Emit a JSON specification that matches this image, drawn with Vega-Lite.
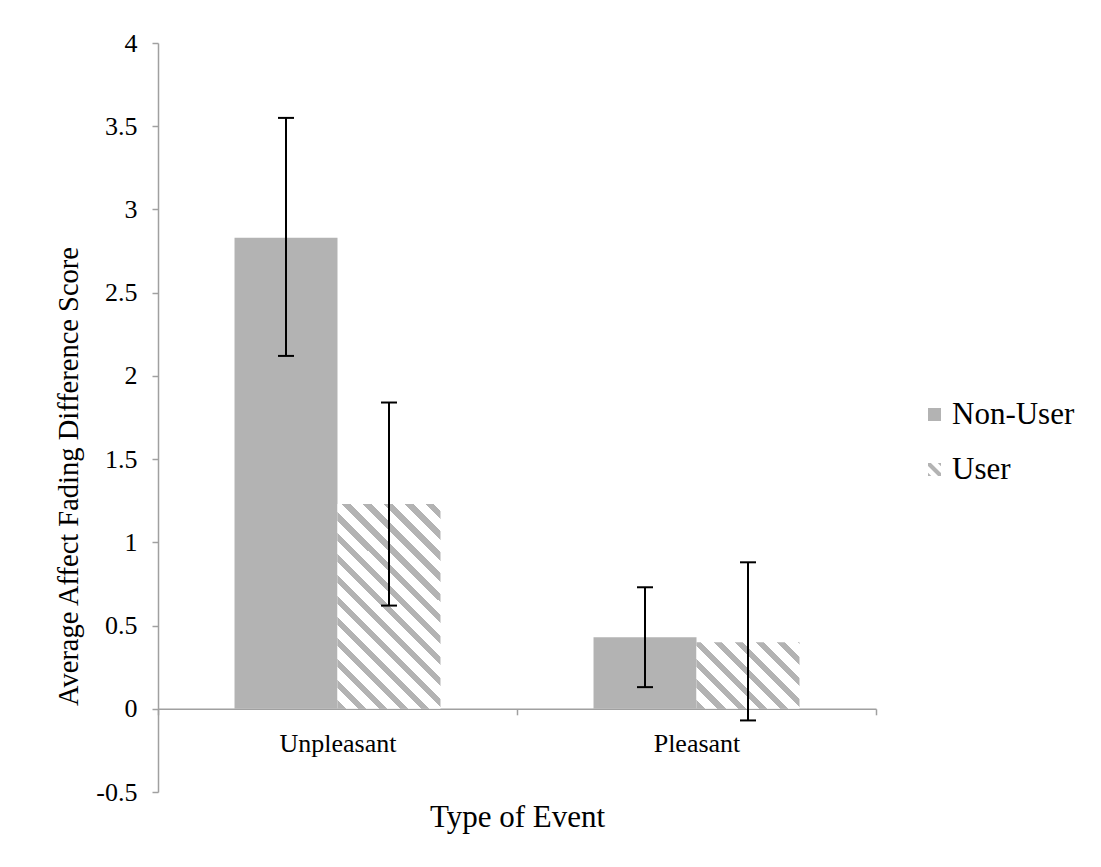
{
  "$schema": "https://vega.github.io/schema/vega-lite/v6.json",
  "width": 718,
  "height": 749,
  "autosize": "none",
  "padding": {"left": 158, "top": 43, "right": 225, "bottom": 75},
  "background": "white",
  "config": {
    "view": {"stroke": null},
    "font": "Liberation Serif",
    "axis": {"labelFont": "Liberation Serif", "titleFont": "Liberation Serif", "labelColor": "black", "titleColor": "black", "titleFontWeight": "normal", "domainColor": "#a0a0a0", "tickColor": "#a0a0a0", "domainWidth": 1.5, "tickWidth": 1.5, "grid": false},
    "legend": {"labelFont": "Liberation Serif"}
  },
  "data": {
    "values": [
      {"event": "Unpleasant", "group": "Non-User", "mean": 2.83, "lo": 2.12, "hi": 3.55},
      {"event": "Unpleasant", "group": "User", "mean": 1.23, "lo": 0.62, "hi": 1.84},
      {"event": "Pleasant", "group": "Non-User", "mean": 0.43, "lo": 0.13, "hi": 0.73},
      {"event": "Pleasant", "group": "User", "mean": 0.40, "lo": -0.07, "hi": 0.88}
    ]
  },
  "encoding": {
    "x": {
      "field": "event", "type": "nominal", "sort": ["Unpleasant", "Pleasant"],
      "scale": {"paddingInner": 0, "paddingOuter": 0},
      "axis": {"title": "Type of Event", "labelAngle": 0, "offset": -83.2, "tickBand": "extent", "tickSize": 6, "labelFontSize": 26, "labelPadding": 16, "titleFontSize": 31, "titlePadding": 46, "labelFont": "Liberation Serif", "titleFont": "Liberation Serif"}
    },
    "xOffset": {"field": "group", "type": "nominal", "sort": ["Non-User", "User"], "scale": {"paddingInner": 0, "paddingOuter": 0.743}}
  },
  "layer": [
    {
      "mark": {"type": "bar"},
      "encoding": {
        "y": {
          "field": "mean", "type": "quantitative", "stack": null,
          "title": "Average Affect Fading Difference Score",
          "scale": {"domain": [-0.5, 4], "nice": false, "zero": false},
          "axis": {"values": [-0.5, 0, 0.5, 1, 1.5, 2, 2.5, 3, 3.5, 4], "labelExpr": "'' + datum.value", "tickSize": 6, "labelFontSize": 26, "labelPadding": 15, "titleFontSize": 28.5, "titleAngle": 270, "titleBaseline": "alphabetic", "titleX": -81, "titleY": 433, "labelFont": "Liberation Serif", "titleFont": "Liberation Serif"}
        },
        "fill": {
          "condition": [
            {"test": "datum.group === 'User' && datum.event === 'Unpleasant'", "value": {"gradient": "linear", "x1": 0, "y1": 1, "x2": 0.6027, "y2": -0.1996, "stops": [
              {"offset": 0, "color": "#b3b3b3"}, {"offset": 0.027, "color": "#b3b3b3"}, {"offset": 0.027, "color": "#ffffff"}, {"offset": 0.068, "color": "#ffffff"},
              {"offset": 0.068, "color": "#b3b3b3"}, {"offset": 0.095, "color": "#b3b3b3"}, {"offset": 0.095, "color": "#ffffff"}, {"offset": 0.136, "color": "#ffffff"},
              {"offset": 0.136, "color": "#b3b3b3"}, {"offset": 0.163, "color": "#b3b3b3"}, {"offset": 0.163, "color": "#ffffff"}, {"offset": 0.204, "color": "#ffffff"},
              {"offset": 0.204, "color": "#b3b3b3"}, {"offset": 0.231, "color": "#b3b3b3"}, {"offset": 0.231, "color": "#ffffff"}, {"offset": 0.272, "color": "#ffffff"},
              {"offset": 0.272, "color": "#b3b3b3"}, {"offset": 0.299, "color": "#b3b3b3"}, {"offset": 0.299, "color": "#ffffff"}, {"offset": 0.340, "color": "#ffffff"},
              {"offset": 0.340, "color": "#b3b3b3"}, {"offset": 0.367, "color": "#b3b3b3"}, {"offset": 0.367, "color": "#ffffff"}, {"offset": 0.408, "color": "#ffffff"},
              {"offset": 0.408, "color": "#b3b3b3"}, {"offset": 0.435, "color": "#b3b3b3"}, {"offset": 0.435, "color": "#ffffff"}, {"offset": 0.476, "color": "#ffffff"},
              {"offset": 0.476, "color": "#b3b3b3"}, {"offset": 0.503, "color": "#b3b3b3"}, {"offset": 0.503, "color": "#ffffff"}, {"offset": 0.544, "color": "#ffffff"},
              {"offset": 0.544, "color": "#b3b3b3"}, {"offset": 0.571, "color": "#b3b3b3"}, {"offset": 0.571, "color": "#ffffff"}, {"offset": 0.612, "color": "#ffffff"},
              {"offset": 0.612, "color": "#b3b3b3"}, {"offset": 0.639, "color": "#b3b3b3"}, {"offset": 0.639, "color": "#ffffff"}, {"offset": 0.680, "color": "#ffffff"},
              {"offset": 0.680, "color": "#b3b3b3"}, {"offset": 0.707, "color": "#b3b3b3"}, {"offset": 0.707, "color": "#ffffff"}, {"offset": 0.748, "color": "#ffffff"},
              {"offset": 0.748, "color": "#b3b3b3"}, {"offset": 0.775, "color": "#b3b3b3"}, {"offset": 0.775, "color": "#ffffff"}, {"offset": 0.816, "color": "#ffffff"},
              {"offset": 0.816, "color": "#b3b3b3"}, {"offset": 0.843, "color": "#b3b3b3"}, {"offset": 0.843, "color": "#ffffff"}, {"offset": 0.884, "color": "#ffffff"},
              {"offset": 0.884, "color": "#b3b3b3"}, {"offset": 0.911, "color": "#b3b3b3"}, {"offset": 0.911, "color": "#ffffff"}, {"offset": 0.952, "color": "#ffffff"},
              {"offset": 0.952, "color": "#b3b3b3"}, {"offset": 0.979, "color": "#b3b3b3"}, {"offset": 0.979, "color": "#ffffff"}, {"offset": 1, "color": "#ffffff"}
            ]}},
            {"test": "datum.group === 'User' && datum.event === 'Pleasant'", "value": {"gradient": "linear", "x1": 0, "y1": 1, "x2": 1.1611, "y2": 0.2492, "stops": [
              {"offset": 0, "color": "#b3b3b3"}, {"offset": 0.049, "color": "#b3b3b3"}, {"offset": 0.049, "color": "#ffffff"}, {"offset": 0.123, "color": "#ffffff"},
              {"offset": 0.123, "color": "#b3b3b3"}, {"offset": 0.173, "color": "#b3b3b3"}, {"offset": 0.173, "color": "#ffffff"}, {"offset": 0.247, "color": "#ffffff"},
              {"offset": 0.247, "color": "#b3b3b3"}, {"offset": 0.296, "color": "#b3b3b3"}, {"offset": 0.296, "color": "#ffffff"}, {"offset": 0.370, "color": "#ffffff"},
              {"offset": 0.370, "color": "#b3b3b3"}, {"offset": 0.420, "color": "#b3b3b3"}, {"offset": 0.420, "color": "#ffffff"}, {"offset": 0.494, "color": "#ffffff"},
              {"offset": 0.494, "color": "#b3b3b3"}, {"offset": 0.543, "color": "#b3b3b3"}, {"offset": 0.543, "color": "#ffffff"}, {"offset": 0.617, "color": "#ffffff"},
              {"offset": 0.617, "color": "#b3b3b3"}, {"offset": 0.666, "color": "#b3b3b3"}, {"offset": 0.666, "color": "#ffffff"}, {"offset": 0.740, "color": "#ffffff"},
              {"offset": 0.740, "color": "#b3b3b3"}, {"offset": 0.790, "color": "#b3b3b3"}, {"offset": 0.790, "color": "#ffffff"}, {"offset": 0.864, "color": "#ffffff"},
              {"offset": 0.864, "color": "#b3b3b3"}, {"offset": 0.913, "color": "#b3b3b3"}, {"offset": 0.913, "color": "#ffffff"}, {"offset": 0.987, "color": "#ffffff"},
              {"offset": 0.987, "color": "#b3b3b3"}, {"offset": 1, "color": "#b3b3b3"}
            ]}}
          ],
          "value": "#b3b3b3"
        }
      }
    },
    {
      "mark": {"type": "point", "filled": true, "opacity": 0, "size": 169},
      "encoding": {
        "y": {"field": "mean", "type": "quantitative", "title": "Average Affect Fading Difference Score"},
        "fill": {
          "field": "group", "type": "nominal", "sort": ["Non-User", "User"],
          "scale": {"domain": ["Non-User", "User"], "range": ["#b3b3b3", "#b3b3b3"]},
          "legend": {
            "title": null, "orient": "none", "legendX": 761, "legendY": 356,
            "symbolSize": 169, "symbolStrokeWidth": 0, "symbolOpacity": 1,
            "labelFont": "Liberation Serif", "labelFontSize": 31, "labelColor": "black",
            "labelOffset": 2, "rowPadding": 23, "padding": 0
          }
        },
        "shape": {
          "field": "group", "type": "nominal", "sort": ["Non-User", "User"],
          "scale": {"domain": ["Non-User", "User"], "range": ["square", "M-1,-1L-0.55,-1L1,0.55L1,1L0.55,1L-1,-0.55Z M-1,0.5L-0.5,1L-1,1Z M0.5,-1L1,-1L1,-0.5Z"]},
          "legend": {
            "title": null, "orient": "none", "legendX": 761, "legendY": 356,
            "symbolSize": 169, "symbolStrokeWidth": 0, "symbolOpacity": 1,
            "labelFont": "Liberation Serif", "labelFontSize": 31, "labelColor": "black",
            "labelOffset": 2, "rowPadding": 23, "padding": 0
          }
        }
      }
    },
    {
      "mark": {"type": "rule", "color": "black", "strokeWidth": 2},
      "encoding": {
        "y": {"field": "lo", "type": "quantitative", "title": "Average Affect Fading Difference Score"},
        "y2": {"field": "hi"}
      }
    },
    {
      "mark": {"type": "tick", "orient": "horizontal", "color": "black", "size": 16, "thickness": 2, "opacity": 1},
      "encoding": {
        "y": {"field": "lo", "type": "quantitative", "title": "Average Affect Fading Difference Score"}
      }
    },
    {
      "mark": {"type": "tick", "orient": "horizontal", "color": "black", "size": 16, "thickness": 2, "opacity": 1},
      "encoding": {
        "y": {"field": "hi", "type": "quantitative", "title": "Average Affect Fading Difference Score"}
      }
    }
  ]
}
